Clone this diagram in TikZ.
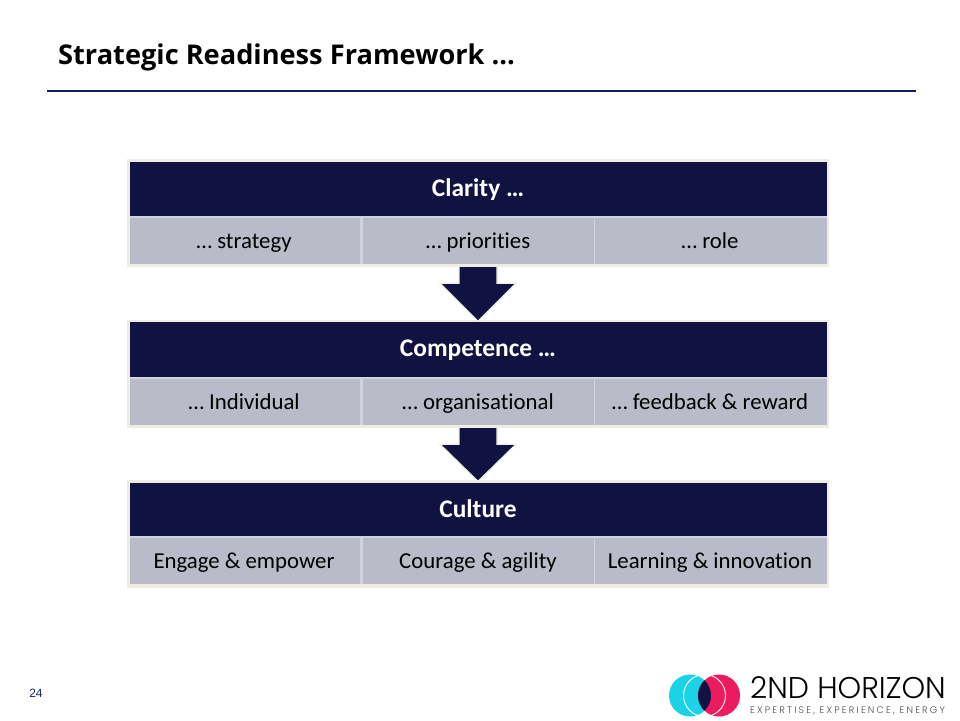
\documentclass[tikz,border=0pt]{standalone}
\usepackage{fontspec}
\usetikzlibrary{calc}
\setmainfont{Carlito}[Ligatures=CommonOff]
\newfontfamily\titlefont{Open Sans}
\newfontfamily\numfont{Liberation Sans}
\newfontfamily\logofont{Poppins Light}
\definecolor{navy}{HTML}{101241}
\definecolor{cell}{HTML}{B9BBC9}
\definecolor{gapgrey}{HTML}{D2D3DC}
\definecolor{frame}{HTML}{EFEDE3}
\definecolor{rule}{HTML}{12215C}
\definecolor{cyanlogo}{HTML}{1BD3E6}
\definecolor{pinklogo}{HTML}{EC1B5E}
\tikzset{
  x=1pt,y=-1pt,
  bandframe/.style={fill=frame,draw=none,inner sep=0pt,minimum width=702pt,minimum height=108pt},
  headbox/.style={fill=navy,text=white,draw=none,inner sep=0pt,minimum width=697pt,text height=12pt,text depth=4pt,font=\fontsize{25.4}{28}\selectfont\bfseries},
  cellbox/.style={fill=cell,text=black,draw=none,inner sep=0pt,minimum height=46pt,text height=12pt,text depth=4pt,font=\fontsize{22.8}{24}\selectfont},
  blockarrow/.style={fill=navy,draw=frame,line width=1.2pt,line join=miter},
}
\begin{document}
\begin{tikzpicture}
\useasboundingbox (0,0) rectangle (960,720);
\fill[white] (0,0) rectangle (960,720);
\node[anchor=west,inner sep=0pt,font=\titlefont\fontsize{27.2}{30}\selectfont\bfseries] (title) at (58,57) {Strategic Readiness Framework …};
\draw[rule,line width=2.4pt] (47,91) -- (916,91);

% Bands
\node[bandframe] (f1) at (478,213) {};
\node[bandframe] (f2) at (478,374) {};
\node[bandframe] (f3) at (478,534) {};
\fill[gapgrey] (130,215) rectangle (827,264);
\fill[gapgrey] (130,376) rectangle (827,425);
\fill[gapgrey] (130,535) rectangle (827,584);
\fill[navy] (130,162) rectangle (827,216);
\fill[navy] (130,322) rectangle (827,377);
\fill[navy] (130,483) rectangle (827,536);
\node[inner sep=0pt,text=white,text height=12pt,text depth=4pt,font=\fontsize{25.4}{28}\selectfont\bfseries] (h1) at (478,192) {Clarity …};
\node[inner sep=0pt,text=white,text height=12pt,text depth=4pt,font=\fontsize{25.4}{28}\selectfont\bfseries] (h2) at (478,352) {Competence …};
\node[inner sep=0pt,text=white,text height=12pt,text depth=4pt,font=\fontsize{25.4}{28}\selectfont\bfseries] (h3) at (478,513) {Culture};

\foreach \r/\y/\a/\b/\c in {
  1/241/… strategy/… priorities/… role,
  2/402/… Individual/… organisational/… feedback \& reward,
  3/561/Engage \& empower/Courage \& agility/Learning \& innovation}{
  \node[cellbox,minimum width=230pt] (c\r a) at (245,\y) {};
  \node[cellbox,minimum width=231pt] (c\r b) at (478,\y) {};
  \node[cellbox,minimum width=232pt] (c\r c) at (711,\y) {};
  \node[inner sep=0pt,text height=12pt,text depth=4pt,font=\fontsize{22.8}{24}\selectfont] (t\r a) at ($(c\r a)+(-1,3)$) {\a};
  \node[inner sep=0pt,text height=12pt,text depth=4pt,font=\fontsize{22.8}{24}\selectfont] (t\r b) at ($(c\r b)+(0,3)$) {\b};
  \node[inner sep=0pt,text height=12pt,text depth=4pt,font=\fontsize{22.8}{24}\selectfont] (t\r c) at ($(c\r c)+(-1,3)$) {\c};
}

% Block arrows
\draw[blockarrow] ($(f1.south)+(-19,-1)$) -- ++(0,17) -- ++(-19,0) -- ($(f2.north)+(0,1.5)$) -- ($(f1.south)+(38,16)$) -- ++(-19,0) -- ($(f1.south)+(19,-1)$) -- cycle;
\draw[blockarrow] ($(f2.south)+(-19,-1)$) -- ++(0,17) -- ++(-19,0) -- ($(f3.north)+(0,1.5)$) -- ($(f2.south)+(38,16)$) -- ++(-19,0) -- ($(f2.south)+(19,-1)$) -- cycle;

% Footer
\node[inner sep=0pt,font=\numfont\fontsize{12}{14}\selectfont,text=rule] (pg) at (36,693) {24};

% Logo
\fill[cyanlogo] (690,695.5) circle (21);
\fill[pinklogo] (719,695.5) circle (21);
\begin{scope}
  \clip (690,695.5) circle (21);
  \fill[navy] (719,695.5) circle (21);
\end{scope}
\draw[white,line width=0.9pt] (704.5,695.5) circle (21);
\node[anchor=west,inner sep=0pt,font=\logofont\fontsize{30}{32}\selectfont] (logoa) at (750,688) {2ND HORIZON};
\node[anchor=west,inner sep=0pt,font=\logofont\fontsize{9.5}{10}\selectfont,text=black!70] (logob) at (750,710.5) {\addfontfeature{LetterSpace=23}EXPERTISE, EXPERIENCE, ENERGY};
\end{tikzpicture}
\end{document}
